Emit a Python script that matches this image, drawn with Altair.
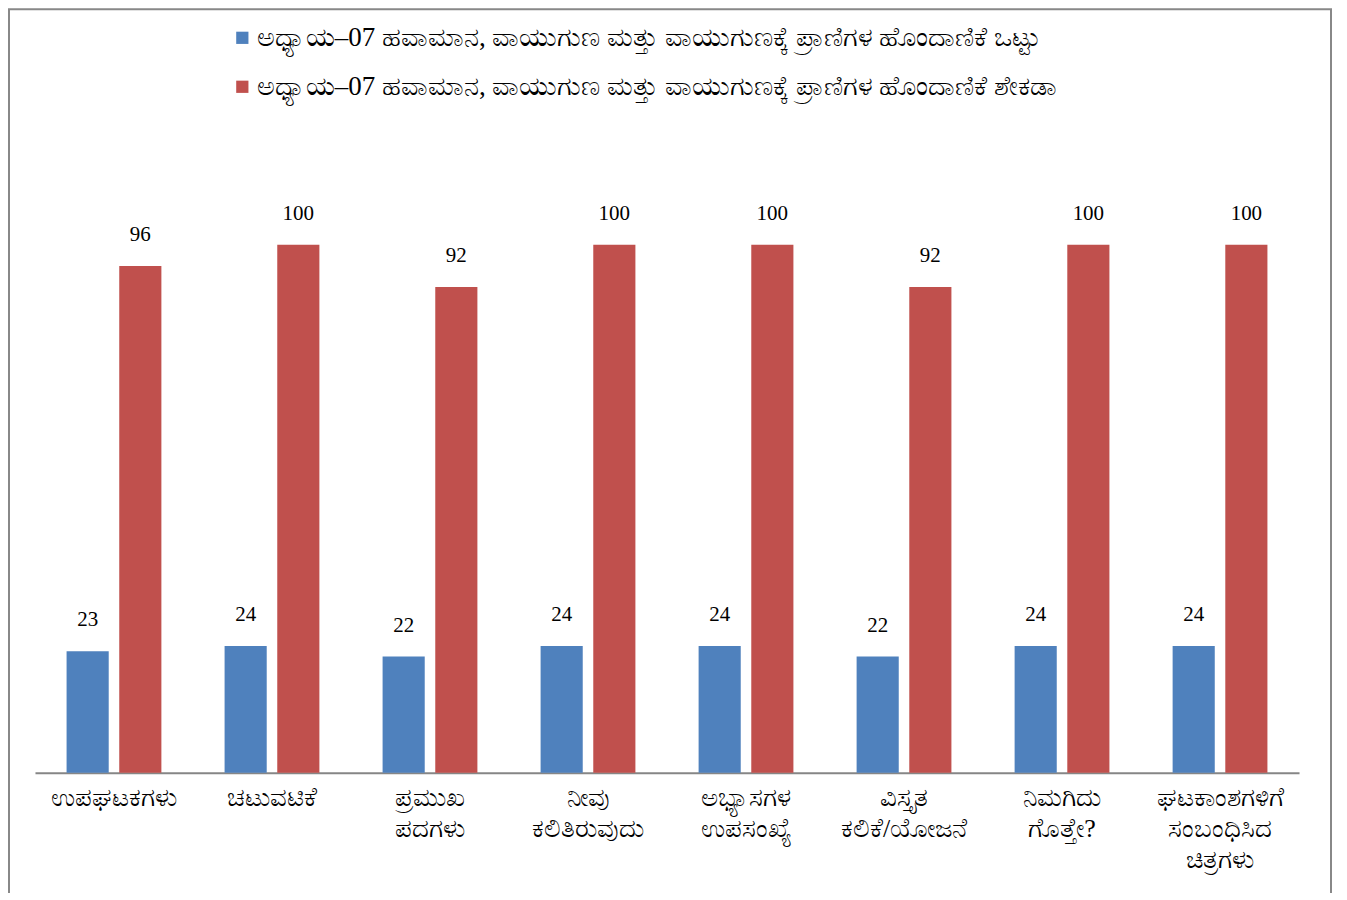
import altair as alt
import pandas as pd

categories = [
    "ಉಪಘಟಕಗಳು",
    "ಚಟುವಟಿಕೆ",
    "ಪ್ರಮುಖ|ಪದಗಳು",
    "ನೀವು|ಕಲಿತಿರುವುದು",
    "ಅಭ್ಯಾಸಗಳ|ಉಪಸಂಖ್ಯೆ",
    "ವಿಸ್ತೃತ|ಕಲಿಕೆ/ಯೋಜನೆ",
    "ನಿಮಗಿದು|ಗೊತ್ತೇ?",
    "ಘಟಕಾಂಶಗಳಿಗೆ|ಸಂಬಂಧಿಸಿದ|ಚಿತ್ರಗಳು",
]
series_names = [
    "ಅಧ್ಯಾಯ–07 ಹವಾಮಾನ, ವಾಯುಗುಣ ಮತ್ತು ವಾಯುಗುಣಕ್ಕೆ ಪ್ರಾಣಿಗಳ ಹೊಂದಾಣಿಕೆ ಒಟ್ಟು",
    "ಅಧ್ಯಾಯ–07 ಹವಾಮಾನ, ವಾಯುಗುಣ ಮತ್ತು ವಾಯುಗುಣಕ್ಕೆ ಪ್ರಾಣಿಗಳ ಹೊಂದಾಣಿಕೆ ಶೇಕಡಾ",
]
totals = [23, 24, 22, 24, 24, 22, 24, 24]
percents = [96, 100, 92, 100, 100, 92, 100, 100]
colors = ["#4F81BD", "#C0504D"]

rows = []
for c, t, p in zip(categories, totals, percents):
    rows.append({"cat": c, "series": series_names[0], "value": t})
    rows.append({"cat": c, "series": series_names[1], "value": p})
df = pd.DataFrame(rows)

W, H = 1265, 634

x = alt.X(
    "cat:N",
    sort=categories,
    title=None,
    scale=alt.Scale(paddingInner=0.4, paddingOuter=0.2),
    axis=alt.Axis(
        labelAngle=0,
        labelExpr="split(datum.label, '|')",
        labelFont="Liberation Serif",
        labelFontSize=26,
        labelColor="#000000",
        labelLineHeight=31,
        labelPadding=12,
        labelBaseline="top",
        ticks=False,
        domainColor="#868686",
        domainWidth=2,
        labelLimit=300,
    ),
)
xo = alt.XOffset("series:N", sort=series_names, scale=alt.Scale(paddingInner=0.2))
y = alt.Y("value:Q", scale=alt.Scale(domain=[0, 120]), axis=None)

bars = alt.Chart(df).mark_bar().encode(
    x=x,
    xOffset=xo,
    y=y,
    color=alt.Color(
        "series:N",
        sort=series_names,
        scale=alt.Scale(domain=series_names, range=colors),
        legend=alt.Legend(
            title=None,
            orient="none",
            legendX=194,
            legendY=-115,
            direction="vertical",
            symbolType="square",
            symbolSize=150,
            symbolOpacity=1,
            labelFont="Liberation Serif",
            labelFontSize=27,
            labelColor="#000000",
            labelLimit=1200,
            rowPadding=21,
            symbolOffset=0,
            labelOffset=1,
        ),
    ),
)

texts = alt.Chart(df).mark_text(
    baseline="bottom", dy=-21, font="Liberation Serif", fontSize=21, color="#000000"
).encode(x=x, xOffset=xo, y=y, text="value:Q")

frame = alt.Chart(pd.DataFrame({"a": [0]})).mark_rect(
    fill=None, stroke="#888888", strokeWidth=2
).encode(x=alt.value(-26), x2=alt.value(1297), y=alt.value(-130), y2=alt.value(790))

chart = (
    alt.layer(frame, bars, texts)
    .properties(
        width=W,
        height=H,
        autosize=alt.AutoSizeParams(type="none"),
        padding={"left": 27, "top": 131, "right": 40, "bottom": 120},
    )
    .configure_view(stroke=None)
)

chart.save("out.html", embed_options={"renderer": "svg", "actions": False})
